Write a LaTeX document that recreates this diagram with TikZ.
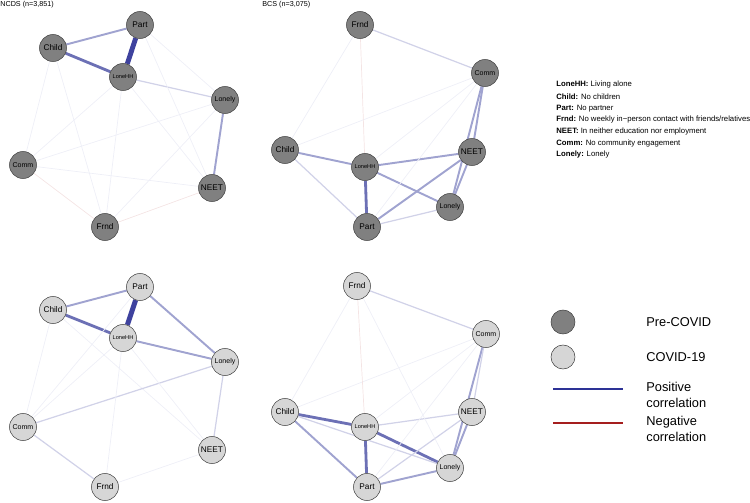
\documentclass[tikz,border=0pt]{standalone}
\usepackage{fontspec}
\setmainfont{Liberation Sans}
\usetikzlibrary{positioning, backgrounds}
\definecolor{PosBlue}{RGB}{45,50,150}
\definecolor{NegRed}{RGB}{165,30,30}
\definecolor{PreGray}{RGB}{128,128,128}
\definecolor{CovGray}{RGB}{214,214,214}

\begin{document}
\begin{tikzpicture}[x=0.02cm, y=-0.02cm,
    prenode/.style={circle, draw=black!75, line width=0.3pt, fill=PreGray, minimum size=0.54cm, inner sep=0pt},
    covnode/.style={prenode, fill=CovGray},
    lblL/.style={font=\fontsize{4.7}{5}\selectfont},
    lblM/.style={font=\fontsize{4}{5}\selectfont},
    lblS/.style={font=\fontsize{3.2}{4}\selectfont},
    w1/.style={draw=PosBlue!8, line width=0.4pt},
    w2/.style={draw=PosBlue!22, line width=0.7pt},
    w3/.style={draw=PosBlue!45, line width=1.1pt},
    w4/.style={draw=PosBlue!70, line width=1.6pt},
    w5/.style={draw=PosBlue!92, line width=2.8pt},
    n1/.style={draw=NegRed!12, line width=0.4pt},
    keytxt/.style={anchor=west, inner sep=0pt, font=\fontsize{4.4}{5}\selectfont},
    legtxt/.style={anchor=west, inner sep=0pt, align=left, font=\fontsize{7.3}{9.3}\selectfont}]
    \useasboundingbox (0,0) rectangle (750,503);

    % NCDS, pre-COVID
    \node[anchor=west, inner sep=0pt, font=\fontsize{4.1}{5}\selectfont] (title1) at (0,5) {NCDS (n=3,851)};
    \node[prenode, lblL] (Part1) at (140,25) {Part};
    \node[prenode, lblL] (Child1) at (53,48) {Child};
    \node[prenode, lblS] (LoneHH1) at (123,77) {LoneHH};
    \node[prenode, lblM] (Lonely1) at (225,100) {Lonely};
    \node[prenode, lblM] (Comm1) at (23,165) {Comm};
    \node[prenode, lblL] (NEET1) at (212,188) {NEET};
    \node[prenode, lblL] (Frnd1) at (105,227) {Frnd};
    \begin{scope}[on background layer]
    \draw[w5] (Part1) -- (LoneHH1);
    \draw[w4] (Child1) -- (LoneHH1);
    \draw[w3] (Child1) -- (Part1);
    \draw[w3] (Lonely1) -- (NEET1);
    \draw[w2] (LoneHH1) -- (Lonely1);
    \draw[w1] (Part1) -- (Lonely1);
    \draw[w1] (Part1) -- (NEET1);
    \draw[w1] (Child1) -- (Frnd1);
    \draw[w1] (Child1) -- (Comm1);
    \draw[w1] (LoneHH1) -- (Comm1);
    \draw[w1] (LoneHH1) -- (NEET1);
    \draw[w1] (LoneHH1) -- (Frnd1);
    \draw[w1] (Comm1) -- (Lonely1);
    \draw[w1] (Comm1) -- (NEET1);
    \draw[w1] (Frnd1) -- (Lonely1);
    \draw[n1] (Comm1) -- (Frnd1);
    \draw[n1] (Frnd1) -- (NEET1);
    \end{scope}

    % BCS, pre-COVID
    \node[anchor=west, inner sep=0pt, font=\fontsize{4.1}{5}\selectfont] (title2) at (262,5) {BCS (n=3,075)};
    \node[prenode, lblL] (Frnd2) at (360,25) {Frnd};
    \node[prenode, lblM] (Comm2) at (485,73) {Comm};
    \node[prenode, lblL] (Child2) at (285,150) {Child};
    \node[prenode, lblL] (NEET2) at (472,152) {NEET};
    \node[prenode, lblS] (LoneHH2) at (365,167) {LoneHH};
    \node[prenode, lblM] (Lonely2) at (450,207) {Lonely};
    \node[prenode, lblL] (Part2) at (367,227) {Part};
    \begin{scope}[on background layer]
    \draw[w4] (LoneHH2) -- (Part2);
    \draw[w3] (Child2) -- (LoneHH2);
    \draw[w3] (LoneHH2) -- (NEET2);
    \draw[w3] (LoneHH2) -- (Lonely2);
    \draw[w3] (NEET2) -- (Part2);
    \draw[w3] (NEET2) -- (Lonely2);
    \draw[w3] (Comm2) -- (NEET2);
    \draw[w3] (Comm2) -- (Lonely2);
    \draw[w2] (Part2) -- (Lonely2);
    \draw[w2] (Frnd2) -- (Comm2);
    \draw[w2] (Child2) -- (Part2);
    \draw[w1] (Frnd2) -- (Child2);
    \draw[w1] (Comm2) -- (Child2);
    \draw[w1] (Comm2) -- (LoneHH2);
    \draw[w1] (Comm2) -- (Part2);
    \draw[n1] (Frnd2) -- (LoneHH2);
    \end{scope}

    % NCDS, COVID-19
    \node[covnode, lblL] (Part3) at (140,287) {Part};
    \node[covnode, lblL] (Child3) at (53,310) {Child};
    \node[covnode, lblS] (LoneHH3) at (123,338) {LoneHH};
    \node[covnode, lblM] (Lonely3) at (225,362) {Lonely};
    \node[covnode, lblM] (Comm3) at (23,427) {Comm};
    \node[covnode, lblL] (NEET3) at (212,450) {NEET};
    \node[covnode, lblL] (Frnd3) at (105,487) {Frnd};
    \begin{scope}[on background layer]
    \draw[w5] (Part3) -- (LoneHH3);
    \draw[w4] (Child3) -- (LoneHH3);
    \draw[w3] (Child3) -- (Part3);
    \draw[w3] (Part3) -- (Lonely3);
    \draw[w3] (LoneHH3) -- (Lonely3);
    \draw[w2] (Lonely3) -- (NEET3);
    \draw[w2] (Comm3) -- (Frnd3);
    \draw[w1] (Child3) -- (NEET3);
    \draw[w2] (Comm3) -- (Lonely3);
    \draw[w1] (Child3) -- (Comm3);
    \draw[w1] (Part3) -- (Comm3);
    \draw[w1] (LoneHH3) -- (Comm3);
    \draw[w1] (LoneHH3) -- (Frnd3);
    \draw[w1] (LoneHH3) -- (NEET3);
    \draw[w1] (Frnd3) -- (NEET3);
    \end{scope}

    % BCS, COVID-19
    \node[covnode, lblL] (Frnd4) at (357,286) {Frnd};
    \node[covnode, lblM] (Comm4) at (486,334) {Comm};
    \node[covnode, lblL] (Child4) at (285,412) {Child};
    \node[covnode, lblL] (NEET4) at (472,412) {NEET};
    \node[covnode, lblS] (LoneHH4) at (365,427) {LoneHH};
    \node[covnode, lblM] (Lonely4) at (450,468) {Lonely};
    \node[covnode, lblL] (Part4) at (367,487) {Part};
    \begin{scope}[on background layer]
    \draw[w4] (Child4) -- (LoneHH4);
    \draw[w4] (LoneHH4) -- (Part4);
    \draw[w4] (LoneHH4) -- (Lonely4);
    \draw[w3] (Part4) -- (Lonely4);
    \draw[w3] (Child4) -- (Part4);
    \draw[w3] (Comm4) -- (Lonely4);
    \draw[w3] (NEET4) -- (Lonely4);
    \draw[w2] (Comm4) -- (NEET4);
    \draw[w2] (Frnd4) -- (Comm4);
    \draw[w2] (LoneHH4) -- (NEET4);
    \draw[w2] (NEET4) -- (Part4);
    \draw[w2] (Child4) -- (Lonely4);
    \draw[w1] (Frnd4) -- (Child4);
    \draw[w1] (Frnd4) -- (Lonely4);
    \draw[w1] (Comm4) -- (Child4);
    \draw[w1] (Comm4) -- (Part4);
    \draw[w1] (Comm4) -- (LoneHH4);
    \draw[n1] (Frnd4) -- (LoneHH4);
    \end{scope}

    % key to the abbreviations
    \node[keytxt] (key1) at (556,85) {\textbf{LoneHH:} Living alone};
    \node[keytxt] (key2) at (556,96.7) {\textbf{Child:} No children};
    \node[keytxt] (key3) at (556,108.3) {\textbf{Part:} No partner};
    \node[keytxt] (key4) at (556,120) {\textbf{Frnd:} No weekly in−person contact with friends/relatives};
    \node[keytxt] (key5) at (556,131.7) {\textbf{NEET:} In neither education nor employment};
    \node[keytxt] (key6) at (556,143.3) {\textbf{Comm:} No community engagement};
    \node[keytxt] (key7) at (556,155) {\textbf{Lonely:} Lonely};

    % legend
    \node[prenode, minimum size=0.48cm] (legPre) at (563,322) {};
    \node[covnode, minimum size=0.48cm] (legCov) at (563,357) {};
    \node[legtxt] (txtPre) at (646,322) {Pre-COVID};
    \node[legtxt] (txtCov) at (646,357) {COVID-19};
    \coordinate (posA) at (553,389);
    \coordinate (posB) at (623,389);
    \coordinate (negA) at (553,423);
    \coordinate (negB) at (623,423);
    \draw[PosBlue, line width=1.6pt] (posA) -- (posB);
    \draw[NegRed, line width=1.6pt] (negA) -- (negB);
    \node[legtxt, anchor=north west] (txtPos) at (646,382) {Positive\\correlation};
    \node[legtxt, anchor=north west] (txtNeg) at (646,416) {Negative\\correlation};
\end{tikzpicture}
\end{document}
